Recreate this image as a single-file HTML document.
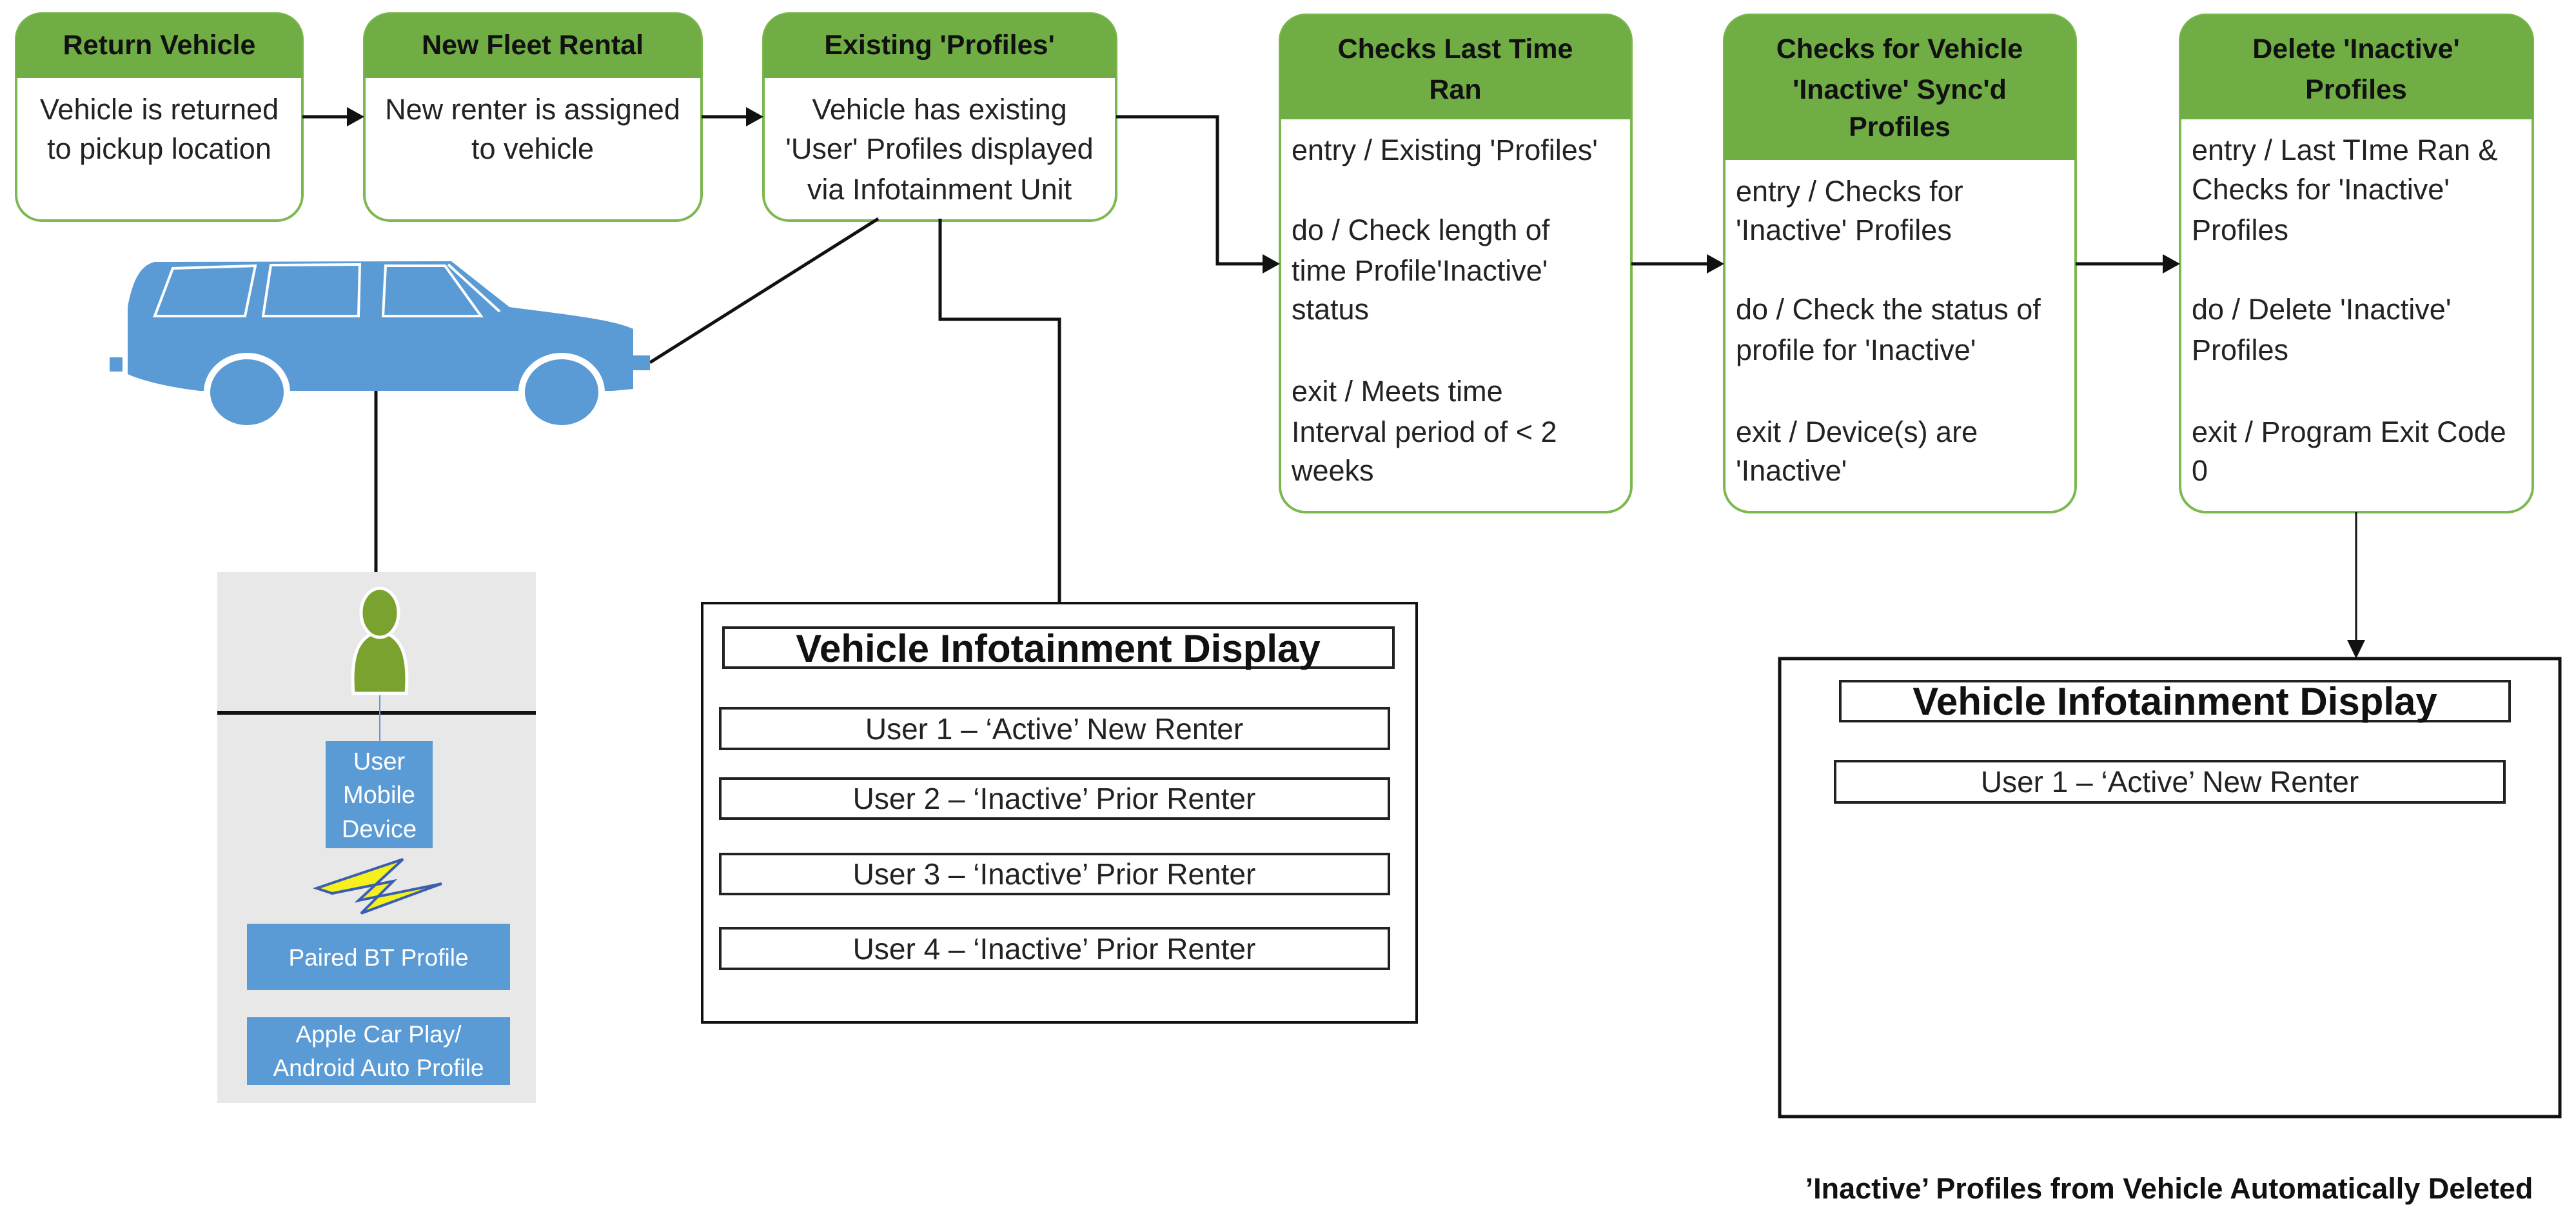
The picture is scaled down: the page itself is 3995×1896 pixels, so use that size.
<!DOCTYPE html>
<html><head><meta charset="utf-8"><style>
html,body{margin:0;padding:0;background:#fff;}
svg{display:block;}
text{font-family:"Liberation Sans",sans-serif;}
</style></head><body>
<svg width="3995" height="1896" viewBox="0 0 3995 1896" xmlns="http://www.w3.org/2000/svg">
<!-- boxes -->
<g stroke="#7cb850" stroke-width="4">
<rect x="25" y="21" width="444" height="321" rx="40" fill="#fff"/>
<rect x="565" y="21" width="523" height="321" rx="40" fill="#fff"/>
<rect x="1184" y="21" width="547" height="321" rx="40" fill="#fff"/>
<rect x="1985" y="23" width="545" height="771" rx="40" fill="#fff"/>
<rect x="2674" y="23" width="545" height="771" rx="40" fill="#fff"/>
<rect x="3381" y="23" width="547" height="771" rx="40" fill="#fff"/>
</g>
<g fill="#71ad45">
<path d="M25,121 V61 a40,40 0 0 1 40,-40 H429 a40,40 0 0 1 40,40 V121 Z"/>
<path d="M565,121 V61 a40,40 0 0 1 40,-40 H1048 a40,40 0 0 1 40,40 V121 Z"/>
<path d="M1184,121 V61 a40,40 0 0 1 40,-40 H1691 a40,40 0 0 1 40,40 V121 Z"/>
<path d="M1985,185 V63 a40,40 0 0 1 40,-40 H2490 a40,40 0 0 1 40,40 V185 Z"/>
<path d="M2674,248 V63 a40,40 0 0 1 40,-40 H3179 a40,40 0 0 1 40,40 V248 Z"/>
<path d="M3381,185 V63 a40,40 0 0 1 40,-40 H3888 a40,40 0 0 1 40,40 V185 Z"/>
</g>
<g font-weight="bold" font-size="43" text-anchor="middle" fill="#111">
<text x="247" y="84">Return Vehicle</text>
<text x="826" y="84">New Fleet Rental</text>
<text x="1457" y="84">Existing 'Profiles'</text>
<text x="2257" y="90">Checks Last Time</text>
<text x="2257" y="153">Ran</text>
<text x="2946" y="90">Checks for Vehicle</text>
<text x="2946" y="153">'Inactive' Sync'd</text>
<text x="2946" y="211">Profiles</text>
<text x="3654" y="90">Delete 'Inactive'</text>
<text x="3654" y="153">Profiles</text>
</g>
<g font-size="45" fill="#222" text-anchor="middle">
<text x="247" y="185">Vehicle is returned</text>
<text x="247" y="246">to pickup location</text>
<text x="826" y="185">New renter is assigned</text>
<text x="826" y="246">to vehicle</text>
<text x="1457" y="185">Vehicle has existing</text>
<text x="1457" y="246">'User' Profiles displayed</text>
<text x="1457" y="309">via Infotainment Unit</text>
</g>
<g font-size="45" fill="#222">
<text x="2003" y="248">entry / Existing 'Profiles'</text>
<text x="2003" y="372">do / Check length of</text>
<text x="2003" y="435">time Profile'Inactive'</text>
<text x="2003" y="495">status</text>
<text x="2003" y="622">exit / Meets time</text>
<text x="2003" y="685">Interval period of &lt; 2</text>
<text x="2003" y="745">weeks</text>
<text x="2692" y="312">entry / Checks for</text>
<text x="2692" y="372">'Inactive' Profiles</text>
<text x="2692" y="495">do / Check the status of</text>
<text x="2692" y="558">profile for 'Inactive'</text>
<text x="2692" y="685">exit / Device(s) are</text>
<text x="2692" y="745">'Inactive'</text>
<text x="3399" y="248">entry / Last TIme Ran &amp;</text>
<text x="3399" y="309">Checks for 'Inactive'</text>
<text x="3399" y="372">Profiles</text>
<text x="3399" y="495">do / Delete 'Inactive'</text>
<text x="3399" y="558">Profiles</text>
<text x="3399" y="685">exit / Program Exit Code</text>
<text x="3399" y="745">0</text>
</g>
<!-- connectors -->
<g stroke="#111" stroke-width="5" fill="none">
<line x1="469" y1="181" x2="540" y2="181"/>
<line x1="1088" y1="181" x2="1159" y2="181"/>
<polyline points="1731,181 1888,181 1888,409 1960,409"/>
<line x1="2530" y1="409" x2="2649" y2="409"/>
<line x1="3219" y1="409" x2="3356" y2="409"/>
<line x1="1362" y1="339" x2="1008" y2="562"/>
<polyline points="1458,339 1458,495 1643,495 1643,935"/>
<line x1="583" y1="606" x2="583" y2="887"/>
<line x1="3654" y1="794" x2="3654" y2="995" stroke-width="3"/>
</g>
<g fill="#111">
<polygon points="565,181 538,166 538,196"/>
<polygon points="1184,181 1157,166 1157,196"/>
<polygon points="1985,409 1958,394 1958,424"/>
<polygon points="2674,409 2647,394 2647,424"/>
<polygon points="3381,409 3354,394 3354,424"/>
<polygon points="3654,1021 3640,992 3668,992"/>
</g>
<!-- car -->
<g>
<path d="M198,600 L198,476 C205,440 215,412 240,406 L700,405 L790,476 C880,488 950,495 982,510 L982,603 L950,606 L930,606 A60,60 0 0 0 812,606 L440,606 A60,60 0 0 0 322,606 L310,606 C260,600 220,590 198,580 Z" fill="#5b9bd5"/>
<rect x="170" y="554" width="20" height="22" fill="#5b9bd5"/>
<rect x="940" y="551" width="68" height="23" fill="#5b9bd5"/>
<ellipse cx="383" cy="608" rx="62" ry="56" fill="#5b9bd5" stroke="#fff" stroke-width="10"/>
<ellipse cx="871" cy="608" rx="62" ry="56" fill="#5b9bd5" stroke="#fff" stroke-width="10"/>
<g fill="none" stroke="#fff" stroke-width="4">
<path d="M240,490 L268,416 L396,412 L380,490 Z"/>
<path d="M408,490 L420,411 L558,410 L556,490 Z"/>
<path d="M594,490 L598,412 L690,412 L746,490 Z"/>
<path d="M695,410 L775,483"/>
</g>
</g>
<!-- gray panel -->
<rect x="337" y="887" width="494" height="823" fill="#e8e8e8"/>
<line x1="337" y1="1105" x2="831" y2="1105" stroke="#111" stroke-width="6"/>
<line x1="589" y1="1073" x2="589" y2="1150" stroke="#5b9bd5" stroke-width="2"/>
<g>
<path d="M548,1075 C543,1010 558,985 589,978 C620,985 635,1010 630,1075 Z" fill="#7aa22e" stroke="#fff" stroke-width="5"/>
<ellipse cx="589" cy="950" rx="29" ry="38" fill="#7aa22e" stroke="#fff" stroke-width="5"/>
</g>
<rect x="505" y="1149" width="166" height="166" fill="#5b9bd5"/>
<g fill="#fff" font-size="38" text-anchor="middle">
<text x="588" y="1193">User</text>
<text x="588" y="1245">Mobile</text>
<text x="588" y="1298">Device</text>
</g>
<polygon points="491,1377 625,1332 556,1396 685,1370 560,1416 610,1366 515,1385" fill="#f5f01e" stroke="#3a5fb0" stroke-width="4"/>
<rect x="383" y="1432" width="408" height="103" fill="#5b9bd5"/>
<rect x="383" y="1577" width="408" height="105" fill="#5b9bd5"/>
<g fill="#fff" font-size="37" text-anchor="middle">
<text x="587" y="1497">Paired BT Profile</text>
<text x="587" y="1616">Apple Car Play/</text>
<text x="587" y="1668">Android Auto Profile</text>
</g>
<!-- display 1 -->
<rect x="1089" y="935" width="1108" height="650" fill="#fff" stroke="#111" stroke-width="4"/>
<g fill="#fff" stroke="#222" stroke-width="4">
<rect x="1122" y="973" width="1039" height="62"/>
<rect x="1117" y="1098" width="1037" height="63"/>
<rect x="1117" y="1207" width="1037" height="62"/>
<rect x="1117" y="1324" width="1037" height="62"/>
<rect x="1117" y="1439" width="1037" height="63"/>
</g>
<text x="1641" y="1026" font-size="60" font-weight="bold" text-anchor="middle" fill="#111">Vehicle Infotainment Display</text>
<g font-size="46" fill="#222" text-anchor="middle">
<text x="1635" y="1146">User 1 – ‘Active’ New Renter</text>
<text x="1635" y="1254">User 2 – ‘Inactive’ Prior Renter</text>
<text x="1635" y="1371">User 3 – ‘Inactive’ Prior Renter</text>
<text x="1635" y="1487">User 4 – ‘Inactive’ Prior Renter</text>
</g>
<!-- display 2 -->
<rect x="2760" y="1021" width="1210" height="710" fill="#fff" stroke="#111" stroke-width="5"/>
<g fill="#fff" stroke="#222" stroke-width="4">
<rect x="2854" y="1056" width="1038" height="62"/>
<rect x="2846" y="1180" width="1038" height="64"/>
</g>
<text x="3373" y="1108" font-size="60" font-weight="bold" text-anchor="middle" fill="#111">Vehicle Infotainment Display</text>
<text x="3365" y="1228" font-size="46" text-anchor="middle" fill="#222">User 1 – ‘Active’ New Renter</text>
<text x="3364" y="1858" font-size="45" font-weight="bold" text-anchor="middle" fill="#111">’Inactive’ Profiles from Vehicle Automatically Deleted</text>
</svg>
</body></html>
